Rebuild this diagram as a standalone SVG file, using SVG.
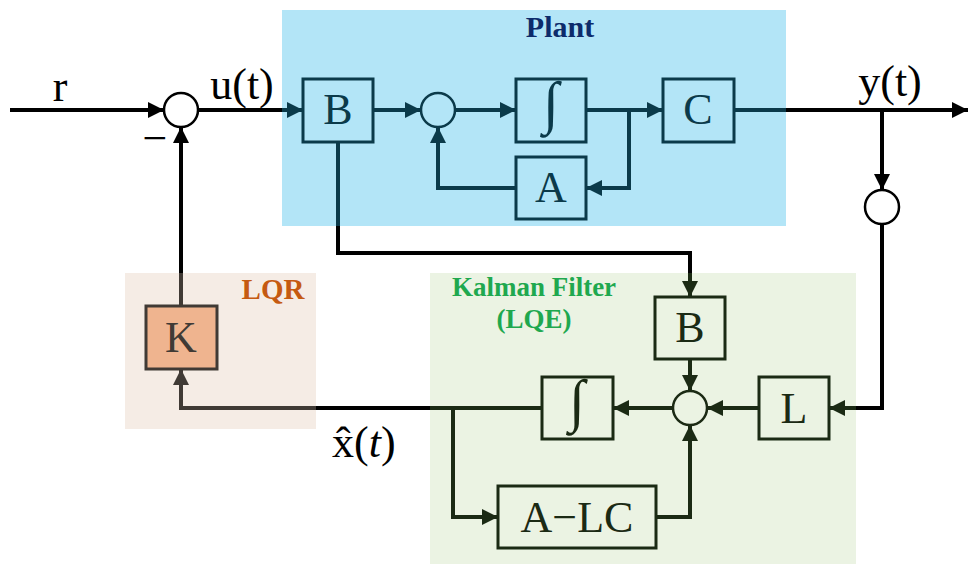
<svg xmlns="http://www.w3.org/2000/svg" width="969" height="564" viewBox="0 0 969 564">
<style>
.lbl{font-family:"Liberation Serif","Times New Roman",serif;font-size:44px;text-anchor:middle}
.big{font-family:"Liberation Serif","Times New Roman",serif;font-size:44px}
.ttl{font-family:"Liberation Serif","Times New Roman",serif;font-weight:700;text-anchor:middle}
.ig{font-family:"Liberation Serif","Times New Roman",serif;font-size:58px;text-anchor:middle}
.ln{fill:none;stroke-width:4;stroke-linejoin:miter}
.k{stroke:#000}
.tl{stroke:#0b3a4a}
.gr{stroke:#403a35}
.dg{stroke:#1b2a14}
.bx{stroke-width:3}
</style>
<defs>
<marker id="ak" markerUnits="userSpaceOnUse" markerWidth="16" markerHeight="16" refX="16" refY="8" orient="auto"><path d="M0,0 L16,8 L0,16 z" fill="#000"/></marker>
<marker id="at" markerUnits="userSpaceOnUse" markerWidth="16" markerHeight="16" refX="16" refY="8" orient="auto"><path d="M0,0 L16,8 L0,16 z" fill="#0b3a4a"/></marker>
<marker id="ag" markerUnits="userSpaceOnUse" markerWidth="16" markerHeight="16" refX="16" refY="8" orient="auto"><path d="M0,0 L16,8 L0,16 z" fill="#403a35"/></marker>
<marker id="ad" markerUnits="userSpaceOnUse" markerWidth="16" markerHeight="16" refX="16" refY="8" orient="auto"><path d="M0,0 L16,8 L0,16 z" fill="#1b2a14"/></marker>
</defs>
<g id="regions">
<rect id="plant-bg" x="282" y="10" width="504" height="216" fill="#b3e5f7"/>
<rect id="lqr-bg" x="125" y="273" width="191" height="156" fill="#f5ece5"/>
<rect id="kalman-bg" x="430" y="273" width="426" height="291" fill="#ebf3e3"/>
<text class="ttl" x="560" y="37" font-size="30" fill="#0d2b6b">Plant</text>
<text class="ttl" x="273" y="299" font-size="29" fill="#c55a11">LQR</text>
<text class="ttl" x="534" y="296" font-size="27" fill="#1fa84f">Kalman Filter</text>
<text class="ttl" x="534" y="328" font-size="27" fill="#1fa84f">(LQE)</text>
</g>
<g id="connectors">
<path class="ln k" d="M10,110 H164" marker-end="url(#ak)"/>
<path class="ln k" d="M198,110 H284"/>
<path class="ln tl" d="M282,110 H303" marker-end="url(#at)"/>
<path class="ln tl" d="M373,110 H421" marker-end="url(#at)"/>
<path class="ln tl" d="M455,110 H516" marker-end="url(#at)"/>
<path class="ln tl" d="M586,110 H663" marker-end="url(#at)"/>
<path class="ln tl" d="M629,110 V188 H586" marker-end="url(#at)"/>
<path class="ln tl" d="M516,188 H438 V127" marker-end="url(#at)"/>
<path class="ln tl" d="M734,110 H788"/>
<path class="ln k" d="M786,110 H968" marker-end="url(#ak)"/>
<path class="ln k" d="M882,110 V190" marker-end="url(#ak)"/>
<path class="ln k" d="M882,224 V408 H854"/>
<path class="ln dg" d="M856,408 H829" marker-end="url(#ad)"/>
<path class="ln dg" d="M759,408 H707" marker-end="url(#ad)"/>
<path class="ln dg" d="M690,359 V391" marker-end="url(#ad)"/>
<path class="ln dg" d="M673,408 H613" marker-end="url(#ad)"/>
<path class="ln dg" d="M542,408 H428"/>
<path class="ln k" d="M430,408 H314"/>
<path class="ln gr" d="M316,408 H181 V369" marker-end="url(#ag)"/>
<path class="ln dg" d="M453,408 V517 H498" marker-end="url(#ad)"/>
<path class="ln dg" d="M656,517 H690 V425" marker-end="url(#ad)"/>
<path class="ln gr" d="M181,306 V271"/>
<path class="ln k" d="M181,273 V127" marker-end="url(#ak)"/>
<path class="ln tl" d="M338,142 V228"/>
<path class="ln k" d="M338,226 V253 H690 V275"/>
<path class="ln dg" d="M690,273 V297" marker-end="url(#ad)"/>
</g>
<g id="sum-main"><circle cx="181" cy="110" r="17" fill="#fff" stroke="#000" stroke-width="2.5"/></g>
<g id="sum-plant"><circle cx="438" cy="110" r="17" fill="none" stroke="#0b3a4a" stroke-width="2.5"/></g>
<g id="sum-meas"><circle cx="882" cy="207" r="17" fill="#fff" stroke="#000" stroke-width="2.5"/></g>
<g id="sum-kf"><circle cx="690" cy="408" r="17" fill="none" stroke="#1b2a14" stroke-width="2.5"/></g>
<g id="plant-B"><rect class="bx" x="303" y="79" width="70" height="63" fill="none" stroke="#0b3a4a"/><text class="lbl" x="338" y="124" fill="#0b3a4a">B</text></g>
<g id="plant-int"><rect class="bx" x="516" y="79" width="70" height="63" fill="none" stroke="#0b3a4a"/><text class="ig" x="551" y="122" fill="#0b3a4a">∫</text></g>
<g id="plant-C"><rect class="bx" x="663" y="79" width="71" height="63" fill="none" stroke="#0b3a4a"/><text class="lbl" x="698" y="124" fill="#0b3a4a">C</text></g>
<g id="plant-A"><rect class="bx" x="516" y="157" width="70" height="62" fill="none" stroke="#0b3a4a"/><text class="lbl" x="551" y="202" fill="#0b3a4a">A</text></g>
<g id="lqr-K"><rect class="bx" x="146" y="306" width="71" height="63" fill="#efb48f" stroke="#403a35"/><text class="lbl" x="181" y="352" fill="#403a35">K</text></g>
<g id="kf-B"><rect class="bx" x="655" y="297" width="70" height="62" fill="none" stroke="#1b2a14"/><text class="lbl" x="690" y="342" fill="#1b2a14">B</text></g>
<g id="kf-int"><rect class="bx" x="542" y="377" width="71" height="62" fill="none" stroke="#1b2a14"/><text class="ig" x="577" y="420" fill="#1b2a14">∫</text></g>
<g id="kf-L"><rect class="bx" x="759" y="377" width="70" height="62" fill="none" stroke="#1b2a14"/><text class="lbl" x="794" y="423" fill="#1b2a14">L</text></g>
<g id="kf-ALC"><rect class="bx" x="498" y="486" width="158" height="62" fill="none" stroke="#1b2a14"/><text class="lbl" x="577" y="532" fill="#1b2a14">A−LC</text></g>
<g id="labels">
<text class="lbl" x="60" y="101" fill="#000">r</text>
<text class="lbl" x="242" y="99" fill="#000">u(t)</text>
<text class="lbl" x="155" y="153" font-size="32" fill="#000">−</text>
<text class="lbl" x="890" y="96" fill="#000">y(t)</text>
<text class="big" x="332" y="457" font-size="40" fill="#000">x&#770;(<tspan font-style="italic">t</tspan>)</text>
</g>
</svg>
